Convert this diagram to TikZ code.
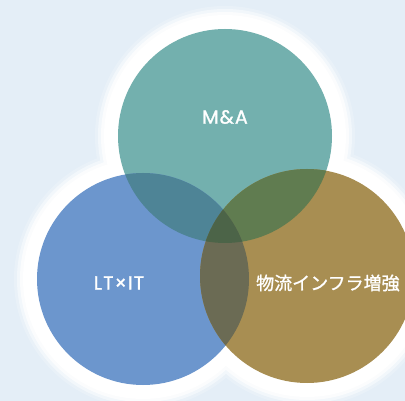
\documentclass[tikz,border=0pt]{standalone}
\usepackage{fontspec}
\setmainfont{Poppins}[BoldFont={Poppins}, BoldFeatures={FakeBold=1.3, LetterSpace=6}]
\newfontfamily\jp{Noto Sans CJK JP}[BoldFont={Noto Sans CJK JP}, BoldFeatures={FakeBold=1.2}]
\definecolor{bgc}{HTML}{E4EEF7}
\definecolor{tealc}{HTML}{73B0AE}
\definecolor{bluec}{HTML}{6C96CD}
\definecolor{brownc}{HTML}{A88E52}
\definecolor{tbc}{HTML}{4E8496}
\definecolor{tnc}{HTML}{607C50}
\definecolor{bnc}{HTML}{6B6B54}
\definecolor{allc}{HTML}{4C6448}
\tikzset{
  disc/.style={circle, inner sep=0pt, minimum size=214pt, fill=#1},
  lbl/.style={text=white, inner sep=0pt, font=\bfseries\fontsize{19}{21}\selectfont}
}
\begin{document}
\begin{tikzpicture}[x=1pt,y=-1pt]
\fill[bgc] (0,0) rectangle (405,401);
\useasboundingbox (0,0) rectangle (405,401);
% soft white halo
\foreach \d/\o in {23/0.2,20/0.45,17/0.75,14/1} {
  \fill[white,opacity=\o] (225,136) circle ({107+\d}) (143,279) circle ({106+\d}) (307,276) circle ({107+\d});
}
% circles
\node[disc=tealc] (ma) at (225,136) {};
\node[disc=bluec, minimum size=212pt] (lt) at (143,279) {};
\node[disc=brownc] (lg) at (307,276) {};
% pairwise overlaps
\begin{scope}
  \clip (225,136) circle (107);
  \fill[tbc] (143,279) circle (106);
  \fill[tnc] (307,276) circle (107);
\end{scope}
\begin{scope}
  \clip (143,279) circle (106);
  \fill[bnc] (307,276) circle (107);
\end{scope}
\begin{scope}
  \clip (225,136) circle (107);
  \clip (143,279) circle (106);
  \fill[allc] (307,276) circle (107);
\end{scope}
% labels
\node[lbl] (tma) at (225,117) {M\&A};
\node[lbl] (tlt) at (119,283) {LT×IT};
\node[lbl, anchor=west, font=\jp\bfseries\fontsize{18}{20}\selectfont] (tlg) at (256,283) {物流インフラ増強};
\end{tikzpicture}
\end{document}
